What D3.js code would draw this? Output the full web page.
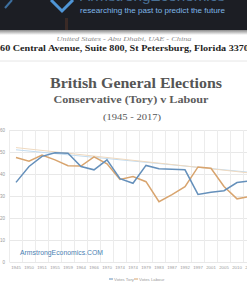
<!DOCTYPE html>
<html><head><meta charset="utf-8">
<script src="https://cdn.jsdelivr.net/npm/d3@7/dist/d3.min.js"></script>
<style>html,body{margin:0;padding:0;background:#fff;overflow:hidden}</style>
</head><body>
<script>
const electionYears = ["1945","1950","1951","1955","1959","1964","1966","1970","1974","1974","1979","1983","1987","1992","1997","2001","2005","2010","2015","2017"];
const toryVotes   = [36.2,43.4,48.0,49.7,49.4,43.4,41.9,46.4,37.9,35.8,43.9,42.4,42.2,41.9,30.7,31.7,32.4,36.1,36.9,42.4];
const labourVotes = [47.5,45.8,48.6,46.4,43.8,43.6,47.8,44.6,37.5,38.8,36.5,27.4,30.6,34.2,43.2,42.6,34.3,28.7,29.8,40.0];
const toryTrend   = [51.0, 40.2];   // trendline value at first and last election
const labourTrend = [52.0, 39.8];
const yTicks = [0,10,20,30,40,50,60];
const seriesNames = ["Votes Tory","Votes Labour"];
const colors = {tory:"#6590bb", labour:"#d8a46e", toryT:"#c2dbef", labourT:"#efd9bf"};

const W=247,H=296;
const svg=d3.select("body").append("svg").attr("width",W).attr("height",H);

// header band
const defs=svg.append("defs");
const g1=defs.append("linearGradient").attr("id","sh").attr("x1",0).attr("y1",0).attr("x2",0).attr("y2",1);
g1.append("stop").attr("offset","0").attr("stop-color","#8a8a8a");
g1.append("stop").attr("offset","1").attr("stop-color","#ffffff");
svg.append("rect").attr("x",0).attr("y",0).attr("width",W).attr("height",30).attr("fill","#1c1e24");
svg.append("rect").attr("x",0).attr("y",30).attr("width",W).attr("height",5).attr("fill","url(#sh)");
svg.append("path").attr("d","M5,8 L12,0").attr("stroke","#3d6f9e").attr("stroke-width",2).attr("fill","none");
svg.append("path").attr("d","M51,0 L62,11 L73,0").attr("stroke","#4f95d6").attr("stroke-width",3).attr("fill","none");
svg.append("rect").attr("x",65).attr("y",18).attr("width",3).attr("height",12).attr("fill","#3a2a26");
svg.append("text").attr("x",80).attr("y",1).attr("font-family","Liberation Sans").attr("font-size",12)
  .attr("fill","#5d93c4").attr("opacity",0.7).attr("textLength",145).attr("lengthAdjust","spacingAndGlyphs").text("ArmstrongEconomics");
svg.append("text").attr("x",80).attr("y",12.5).attr("font-family","Liberation Sans").attr("font-size",7)
  .attr("fill","#7fb6e6").attr("textLength",145).attr("lengthAdjust","spacingAndGlyphs").text("researching the past to predict the future");
svg.append("text").attr("x",124).attr("y",40.5).attr("text-anchor","middle").attr("font-family","Liberation Serif")
  .attr("font-style","italic").attr("font-size",6).attr("fill","#8a8a8a").attr("textLength",135).attr("lengthAdjust","spacingAndGlyphs")
  .text("United States - Abu Dhabi, UAE - China");
svg.append("text").attr("x",-5).attr("y",51).attr("font-family","Liberation Serif").attr("font-weight","bold")
  .attr("font-size",9).attr("fill","#1e1e1e").attr("textLength",259).attr("lengthAdjust","spacingAndGlyphs")
  .text("360 Central Avenue, Suite 800, St Petersburg, Florida 33701");
svg.append("line").attr("x1",0).attr("x2",W).attr("y1",61).attr("y2",61).attr("stroke","#e6e6e6");

// titles
const tf="Liberation Serif";
svg.append("text").attr("x",136).attr("y",88).attr("text-anchor","middle").attr("font-family",tf).attr("font-size",15)
  .attr("font-weight","bold").attr("fill","#555").attr("textLength",172).attr("lengthAdjust","spacingAndGlyphs").text("British General Elections");
svg.append("text").attr("x",131).attr("y",103).attr("text-anchor","middle").attr("font-family",tf).attr("font-size",10)
  .attr("font-weight","bold").attr("fill","#5c5c5c").attr("textLength",155).attr("lengthAdjust","spacingAndGlyphs").text("Conservative (Tory) v Labour");
svg.append("text").attr("x",132).attr("y",120).attr("text-anchor","middle").attr("font-family",tf).attr("font-size",9)
  .attr("fill","#555").attr("textLength",58).attr("lengthAdjust","spacingAndGlyphs").text("(1945 - 2017)");

// scales
const idx=d3.range(electionYears.length);
const x=d3.scaleBand().domain(idx).range([9.5,9.5+13*idx.length]).padding(0);
const cx=i=>x(i)+x.bandwidth()/2;
const y=d3.scaleLinear().domain([0,60]).range([262,130]);

// grid
const grid=svg.append("g");
grid.selectAll("line.h").data(yTicks).join("line").attr("x1",9.5).attr("x2",W)
  .attr("y1",d=>Math.round(y(d))+0.5).attr("y2",d=>Math.round(y(d))+0.5).attr("stroke","#e8e8e8").attr("stroke-width",1);
grid.selectAll("line.v").data(d3.range(idx.length+1)).join("line")
  .attr("x1",d=>9.5+d*x.step()).attr("x2",d=>9.5+d*x.step()).attr("y1",130).attr("y2",262)
  .attr("stroke","#ececec").attr("stroke-width",1);

// y labels
svg.append("g").selectAll("text").data(yTicks).join("text").attr("x",5).attr("y",d=>y(d)+1.5)
  .attr("text-anchor","end").attr("font-family","Liberation Sans").attr("font-size",4.5).attr("fill","#999").text(d=>d);

// x labels
const xa=svg.append("g").attr("transform","translate(0,262)")
  .call(d3.axisBottom(x).tickSize(0).tickPadding(4).tickFormat(i=>electionYears[i]));
xa.select(".domain").remove();
xa.selectAll("text").attr("font-family","Liberation Sans").attr("font-size",4.3).attr("fill","#999");

// trend lines
const trendLine=(t)=>[[cx(0),y(t[0])],[cx(idx.length-1),y(t[1])]];
svg.append("path").attr("d",d3.line()(trendLine(toryTrend))).attr("stroke",colors.toryT).attr("stroke-width",1).attr("fill","none");
svg.append("path").attr("d",d3.line()(trendLine(labourTrend))).attr("stroke",colors.labourT).attr("stroke-width",1).attr("fill","none");

// series
const line=d3.line().x((d,i)=>cx(i)).y(d=>y(d));
svg.append("path").datum(labourVotes).attr("d",line).attr("stroke",colors.labour).attr("stroke-width",1.5).attr("fill","none");
svg.append("path").datum(toryVotes).attr("d",line).attr("stroke",colors.tory).attr("stroke-width",1.5).attr("fill","none");

// watermark
svg.append("text").attr("x",20).attr("y",254.5).attr("font-family","Liberation Sans").attr("font-size",7.5)
  .attr("fill","#4a7fb3").attr("textLength",83).attr("lengthAdjust","spacingAndGlyphs").text("ArmstrongEconomics.COM");

// legend
const lg=svg.append("g");
const items=[{n:seriesNames[0],c:colors.tory,x:109},{n:seriesNames[1],c:colors.labour,x:134}];
items.forEach(it=>{
  lg.append("line").attr("x1",it.x).attr("x2",it.x+4).attr("y1",279).attr("y2",279).attr("stroke",it.c).attr("stroke-width",1);
  lg.append("text").attr("x",it.x+5).attr("y",280.5).attr("font-family","Liberation Sans").attr("font-size",4.3).attr("fill","#999").text(it.n);
});
</script>
</body></html>
